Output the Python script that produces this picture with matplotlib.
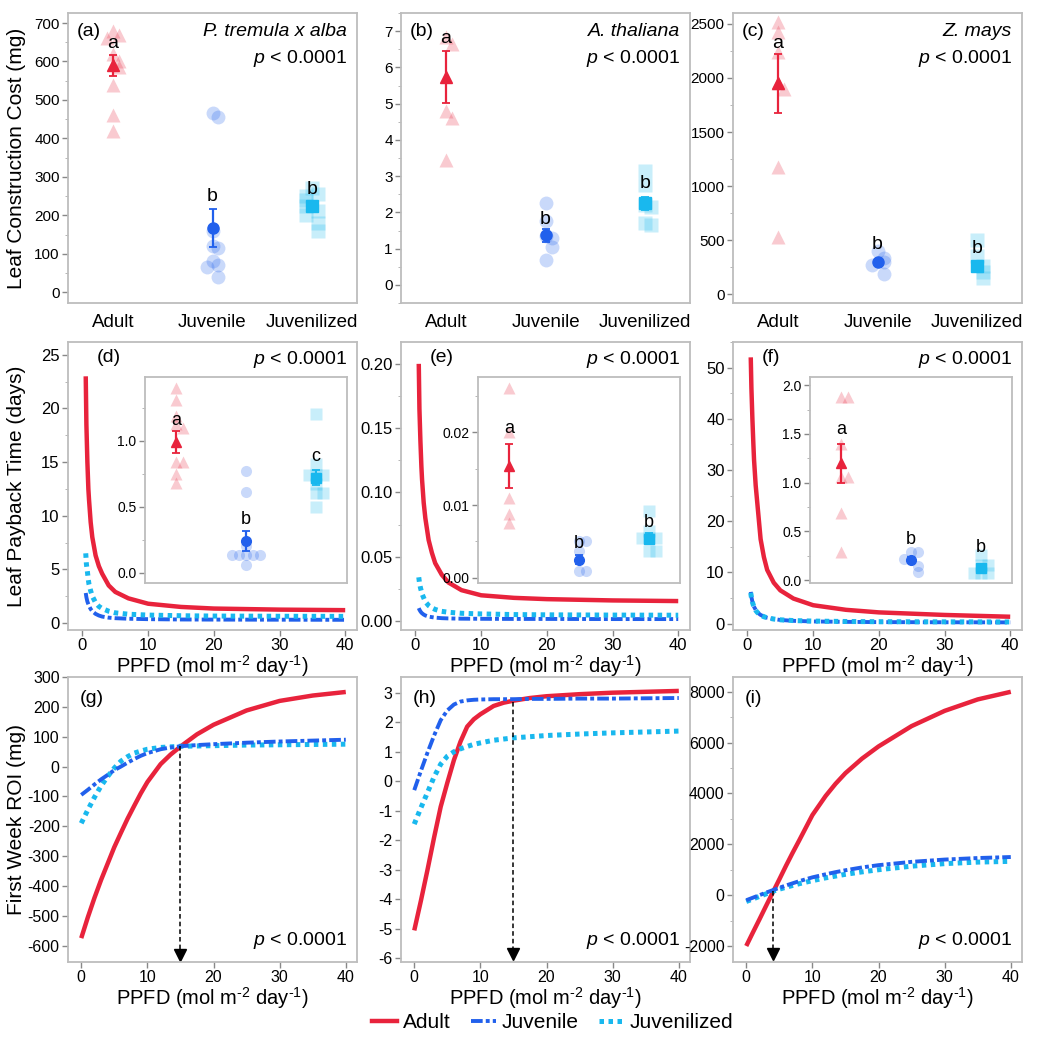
import matplotlib
matplotlib.use("Agg")
import matplotlib.pyplot as plt
from matplotlib.lines import Line2D
from matplotlib.ticker import MultipleLocator, FormatStrFormatter
import numpy as np

plt.rcParams['font.family'] = ['Liberation Sans', 'DejaVu Sans']
plt.rcParams['mathtext.fontset'] = 'custom'
plt.rcParams['mathtext.rm'] = 'Liberation Sans'
plt.rcParams['mathtext.it'] = 'Liberation Sans:italic'
plt.rcParams['axes.unicode_minus'] = False

groups = ['Adult', 'Juvenile', 'Juvenilized']
species = ['P. tremula x alba', 'A. thaliana', 'Z. mays']

# --- construction cost (mg), individual leaves + mean/SE
cost_pts = [
    [[680, 670, 660, 620, 600, 585, 540, 460, 420],
     [465, 455, 160, 120, 115, 80, 70, 65, 40],
     [270, 255, 250, 240, 225, 210, 200, 180, 160]],
    [[6.85, 6.65, 4.8, 4.6, 3.45],
     [2.25, 1.75, 1.35, 1.3, 1.05, 0.68],
     [3.15, 2.75, 2.2, 2.15, 1.7, 1.65]],
    [[2520, 2420, 2240, 1950, 1900, 1180, 530],
     [400, 340, 300, 270, 190],
     [500, 350, 260, 210, 150]],
]
cost_mean = [[590, 167, 225], [5.73, 1.37, 2.25], [1950, 300, 260]]
cost_err = [[28, 49, 12], [0.72, 0.18, 0.18], [270, 25, 30]]
cost_letters = [['a', 'b', 'b'], ['a', 'b', 'b'], ['a', 'b', 'b']]
cost_letter_y = [[648, 250, 268], [6.8, 1.8, 2.8], [2320, 460, 420]]

# --- payback time (days), inset points + mean/SE
pay_pts = [
    [[1.40, 1.31, 1.19, 1.13, 1.10, 0.84, 0.84, 0.75, 0.68],
     [0.77, 0.61, 0.20, 0.13, 0.13, 0.13, 0.13, 0.13, 0.06],
     [1.20, 0.82, 0.74, 0.74, 0.74, 0.67, 0.60, 0.60, 0.50]],
    [[0.026, 0.020, 0.011, 0.0088, 0.0075],
     [0.005, 0.005, 0.0037, 0.001, 0.001],
     [0.0092, 0.0065, 0.0055, 0.0055, 0.0055, 0.0037, 0.0037]],
    [[1.88, 1.88, 1.40, 1.06, 1.06, 0.69, 0.29],
     [0.29, 0.29, 0.22, 0.15, 0.08],
     [0.26, 0.16, 0.16, 0.07, 0.07, 0.07]],
]
pay_mean = [[0.99, 0.24, 0.72], [0.0153, 0.0025, 0.0054], [1.20, 0.21, 0.12]]
pay_err = [[0.085, 0.075, 0.055], [0.003, 0.0006, 0.0008], [0.2, 0.03, 0.03]]
pay_letters = [['a', 'b', 'c'], ['a', 'b', 'b'], ['a', 'b', 'b']]
pay_letter_y = [[1.15, 0.40, 0.88], [0.0205, 0.0047, 0.0076], [1.55, 0.42, 0.33]]

# --- payback time curves vs PPFD
ppfd_pb = [0.5, 0.6, 0.75, 0.9, 1, 1.25, 1.5, 2, 2.5, 3, 4, 5, 7, 10, 15, 20, 30, 40]
pb_curves = [
    {'Adult': [23, 18.5, 15, 12.5, 11.5, 9.4, 8, 6.3, 5.3, 4.6, 3.5, 2.9, 2.3, 1.8, 1.5, 1.35, 1.25, 1.2],
     'Juvenile': [2.8, 2.4, 2.0, 1.75, 1.6, 1.3, 1.1, 0.85, 0.7, 0.6, 0.5, 0.45, 0.4, 0.36, 0.33, 0.32, 0.31, 0.3],
     'Juvenilized': [6.5, 5.5, 4.8, 4.0, 3.6, 3.0, 2.5, 1.9, 1.55, 1.35, 1.1, 0.95, 0.82, 0.74, 0.68, 0.65, 0.63, 0.62]},
    {'Adult': [0.2, 0.165, 0.14, 0.12, 0.11, 0.092, 0.08, 0.063, 0.053, 0.045, 0.036, 0.03, 0.024, 0.02, 0.018, 0.017, 0.016, 0.0155],
     'Juvenile': [0.010, 0.0088, 0.0075, 0.0065, 0.006, 0.005, 0.0043, 0.0034, 0.003, 0.0026, 0.0022, 0.002, 0.0018, 0.0017, 0.0016, 0.0016, 0.0015, 0.0015],
     'Juvenilized': [0.034, 0.03, 0.026, 0.023, 0.021, 0.018, 0.015, 0.012, 0.0102, 0.009, 0.0075, 0.0068, 0.006, 0.0055, 0.005, 0.0048, 0.0046, 0.0045]},
    {'Adult': [52, 46, 40, 35, 32, 27, 23.5, 16.5, 13, 10.5, 8, 6.5, 4.9, 3.6, 2.7, 2.2, 1.7, 1.35],
     'Juvenile': [6.2, 5.2, 4.3, 3.7, 3.3, 2.7, 2.2, 1.7, 1.4, 1.15, 0.9, 0.72, 0.55, 0.43, 0.35, 0.3, 0.27, 0.25],
     'Juvenilized': [6.0, 5.1, 4.2, 3.6, 3.2, 2.6, 2.2, 1.65, 1.35, 1.15, 0.9, 0.75, 0.6, 0.5, 0.42, 0.38, 0.35, 0.33]},
]

# --- first week ROI (mg) vs PPFD
ppfd_roi = [0, 1, 2, 3, 4, 5, 6, 7, 8, 9, 10, 12, 13.5, 15, 17.5, 20, 25, 30, 35, 40]
roi_curves = [
    {'Adult': [-575, -505, -440, -380, -325, -270, -222, -175, -132, -90, -52, 8, 40, 67, 108, 140, 188, 220, 238, 250],
     'Juvenile': [-95, -78, -60, -43, -28, -12, 0, 13, 25, 36, 45, 58, 64, 68, 72, 75, 80, 84, 87, 90],
     'Juvenilized': [-190, -145, -103, -65, -33, -5, 18, 33, 45, 52, 58, 64, 66, 68, 69, 70, 72, 73, 74, 75]},
    {'Adult': [-5.05, -4.05, -3.0, -1.9, -0.86, -0.05, 0.72, 1.35, 1.85, 2.1, 2.27, 2.55, 2.66, 2.73, 2.82, 2.88, 2.95, 3.0, 3.03, 3.06],
     'Juvenile': [-0.3, 0.35, 0.97, 1.55, 2.07, 2.4, 2.6, 2.7, 2.74, 2.76, 2.77, 2.78, 2.78, 2.78, 2.79, 2.79, 2.8, 2.8, 2.81, 2.82],
     'Juvenilized': [-1.45, -0.9, -0.38, 0.15, 0.58, 0.85, 1.0, 1.1, 1.18, 1.25, 1.3, 1.39, 1.43, 1.47, 1.51, 1.55, 1.6, 1.64, 1.67, 1.7]},
    {'Adult': [-2000, -1470, -950, -420, 100, 620, 1150, 1660, 2150, 2650, 3150, 3900, 4380, 4800, 5370, 5850, 6650, 7250, 7700, 8000],
     'Juvenile': [-200, -100, 0, 100, 195, 290, 380, 465, 550, 625, 700, 820, 905, 980, 1090, 1180, 1310, 1400, 1460, 1500],
     'Juvenilized': [-250, -150, -50, 50, 150, 235, 310, 380, 450, 510, 570, 680, 750, 820, 915, 1000, 1140, 1240, 1300, 1330]},
]
# break-even arrows: x, start, end
arrow_x = [15, 15, 4]
arrow_top = [68, 2.7, 150]
arrow_end = [-632, -5.85, -2330]

# styles
col = {'Adult': '#E8233C', 'Juvenile': '#2160EC', 'Juvenilized': '#19B8EE'}
mk = {'Adult': '^', 'Juvenile': 'o', 'Juvenilized': 's'}
ls = {'Adult': '-', 'Juvenile': (0, (3, 0.8, 1, 0.8)), 'Juvenilized': (0, (0.9, 0.9))}
lw = {'Adult': 3.2, 'Juvenile': 2.8, 'Juvenilized': 3.6}
spine_c = '#BDBDBD'

fig = plt.figure(figsize=(10.43, 10.50), dpi=100)
lefts = [0.0652, 0.3845, 0.7028]
W = 0.2771
rows = [(0.7114, 0.2762), (0.400, 0.2743), (0.0838, 0.2714)]


def style(ax, fs=11):
    for s in ax.spines.values():
        s.set_color(spine_c)
        s.set_linewidth(1.3)
    ax.tick_params(colors='#888888', labelcolor='black', labelsize=fs, length=4, width=1, pad=2)
    ax.tick_params(which='minor', colors='#AAAAAA', length=2.5)


def jitter(vals, span, step=0.065):
    offs = []
    for i, v in enumerate(vals):
        n = sum(1 for u in vals[:i] if abs(u - v) < 0.035 * span)
        k = (n + 1) // 2
        offs.append(0 if n == 0 else step * k * (1 if n % 2 else -1))
    return offs


def cat_panel(ax, pts, means, errs, letters, ly, ylim, fs_let, ms_pale, ms_mean, step):
    span = ylim[1] - ylim[0]
    for i, g in enumerate(groups):
        off = jitter(pts[i], span, step)
        ax.plot(i + np.array(off), pts[i], ls='none',
                marker=mk[g], ms=ms_pale, color=col[g], alpha=0.24, mec='none')
        ax.errorbar(i, means[i], yerr=errs[i], fmt=mk[g], color=col[g], ms=ms_mean,
                    capsize=3, elinewidth=1.6, capthick=1.3, zorder=5)
        ax.text(i, ly[i], letters[i], ha='center', va='center', fontsize=fs_let)
    ax.set_xlim(-0.45, 2.45)
    ax.set_ylim(*ylim)


ylab_x = -0.145

# ---------- top row
top_ylims = [(-28, 726), (-0.5, 7.5), (-80, 2600)]
top_major = [100, 1, 500]
for c in range(3):
    ax = fig.add_axes([lefts[c], rows[0][0], W, rows[0][1]])
    cat_panel(ax, cost_pts[c], cost_mean[c], cost_err[c], cost_letters[c],
              cost_letter_y[c], top_ylims[c], 14, 10, 8, 0.06)
    ax.set_xticks(range(3))
    ax.set_xticklabels(groups)
    style(ax)
    ax.tick_params(axis='x', length=0, labelsize=13.5, pad=8)
    ax.yaxis.set_major_locator(MultipleLocator(top_major[c]))
    ax.yaxis.set_minor_locator(MultipleLocator(top_major[c] / 2))
    ax.text(0.03, 0.965, '(%s)' % 'abc'[c], transform=ax.transAxes, fontsize=14, va='top')
    ax.text(0.965, 0.965, species[c], transform=ax.transAxes, fontsize=14, va='top',
            ha='right', fontstyle='italic')
    ax.text(0.965, 0.88, '$p$ < 0.0001', transform=ax.transAxes, fontsize=14, va='top', ha='right')
    if c == 0:
        ax.set_ylabel('Leaf Construction Cost (mg)', fontsize=15)
        ax.yaxis.set_label_coords(ylab_x, 0.5)

# ---------- middle row
mid_ylims = [(-0.65, 26.2), (-0.007, 0.217), (-1.24, 55)]
mid_major = [5, 0.05, 10]
mid_fmt = ['%d', '%.2f', '%d']
in_ylims = [(-0.08, 1.48), (-0.0007, 0.0275), (-0.03, 2.08)]
in_major = [0.5, 0.01, 0.5]
in_fmt = ['%.1f', '%.2f', '%.1f']
xlab = r'PPFD (mol m$^{\text{-}2}$ day$^{\text{-}1}$)'
for c in range(3):
    ax = fig.add_axes([lefts[c], rows[1][0], W, rows[1][1]])
    for g in ['Juvenile', 'Juvenilized', 'Adult']:
        ax.plot(ppfd_pb, pb_curves[c][g], color=col[g], ls=ls[g], lw=lw[g],
                dash_capstyle='butt', solid_capstyle='butt')
    ax.set_xlim(-2.2, 41.8)
    ax.set_ylim(*mid_ylims[c])
    style(ax, 12)
    ax.xaxis.set_major_locator(MultipleLocator(10))
    ax.yaxis.set_major_locator(MultipleLocator(mid_major[c]))
    ax.yaxis.set_minor_locator(MultipleLocator(mid_major[c] / 2))
    ax.yaxis.set_major_formatter(FormatStrFormatter(mid_fmt[c]))
    ax.set_xlabel(xlab, fontsize=14.5, labelpad=0)
    ax.text(0.1, 0.975, '(%s)' % 'def'[c], transform=ax.transAxes, fontsize=14, va='top')
    ax.text(0.965, 0.975, '$p$ < 0.0001', transform=ax.transAxes, fontsize=14, va='top', ha='right')
    if c == 0:
        ax.set_ylabel('Leaf Payback Time (days)', fontsize=15)
        ax.yaxis.set_label_coords(ylab_x, 0.5)

    ins = ax.inset_axes([0.266, 0.163, 0.7, 0.714])
    cat_panel(ins, pay_pts[c], pay_mean[c], pay_err[c], pay_letters[c],
              pay_letter_y[c], in_ylims[c], 13, 8, 7, 0.1)
    style(ins, fs=10)
    ins.set_xticks([])
    ins.yaxis.set_major_locator(MultipleLocator(in_major[c]))
    ins.yaxis.set_minor_locator(MultipleLocator(in_major[c] / 2))
    ins.yaxis.set_major_formatter(FormatStrFormatter(in_fmt[c]))

# ---------- bottom row
bot_ylims = [(-655, 300), (-6.12, 3.53), (-2630, 8580)]
bot_major = [100, 1, 2000]
for c in range(3):
    ax = fig.add_axes([lefts[c], rows[2][0], W, rows[2][1]])
    for g in ['Adult', 'Juvenilized', 'Juvenile']:
        ax.plot(ppfd_roi, roi_curves[c][g], color=col[g], ls=ls[g], lw=lw[g],
                dash_capstyle='butt', solid_capstyle='butt')
    ax.plot([arrow_x[c], arrow_x[c]], [arrow_top[c], arrow_end[c]], color='black',
            ls=(0, (3, 2)), lw=1.1)
    ax.plot(arrow_x[c], arrow_end[c], marker='v', color='black', ms=8)
    ax.set_xlim(-2.0, 41.7)
    ax.set_ylim(*bot_ylims[c])
    style(ax, 11.5)
    ax.xaxis.set_major_locator(MultipleLocator(10))
    ax.yaxis.set_major_locator(MultipleLocator(bot_major[c]))
    if c == 2:
        ax.yaxis.set_minor_locator(MultipleLocator(1000))
    ax.set_xlabel(xlab, fontsize=14.5, labelpad=0)
    ax.text(0.04, 0.955, '(%s)' % 'ghi'[c], transform=ax.transAxes, fontsize=14, va='top')
    ax.text(0.965, 0.04, '$p$ < 0.0001', transform=ax.transAxes, fontsize=14, va='bottom', ha='right')
    if c == 0:
        ax.set_ylabel('First Week ROI (mg)', fontsize=15)
        ax.yaxis.set_label_coords(ylab_x, 0.5)

handles = [Line2D([], [], color=col[g], ls=ls[g], lw=lw[g], dash_capstyle='butt') for g in groups]
fig.legend(handles, groups, loc='center', bbox_to_anchor=(0.53, 0.026), ncol=3,
           frameon=False, fontsize=15, handlelength=1.2, handletextpad=0.25, columnspacing=1.0)

fig.savefig('out.png', dpi=100)
